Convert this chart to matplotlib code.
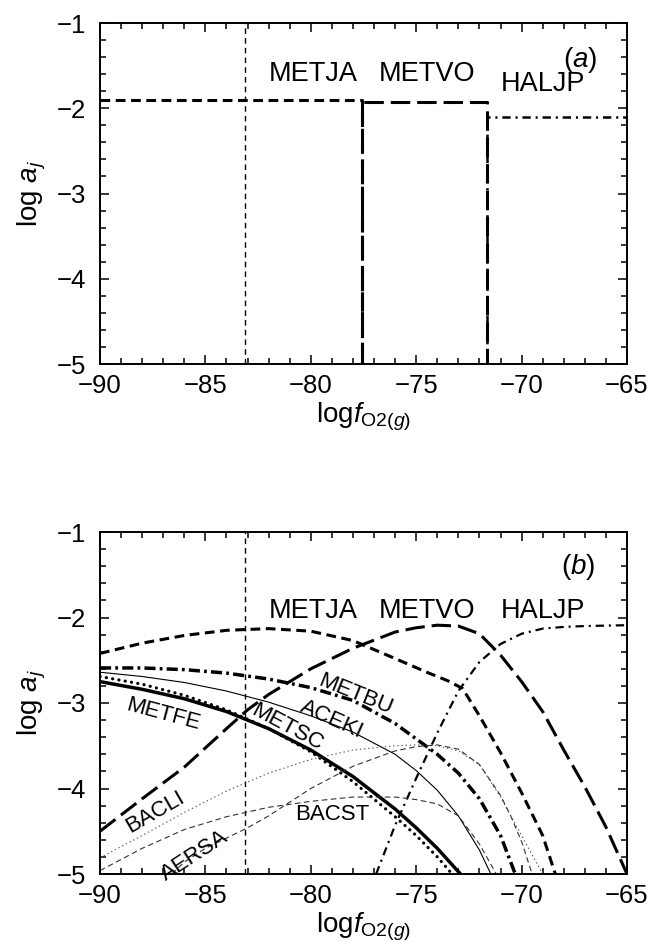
import matplotlib
matplotlib.use("Agg")
import matplotlib.pyplot as plt
from matplotlib.ticker import MultipleLocator

plt.rcParams['font.family'] = ['Liberation Sans', 'DejaVu Sans']
plt.rcParams['mathtext.fontset'] = 'custom'
plt.rcParams['mathtext.rm'] = 'Liberation Sans'
plt.rcParams['mathtext.it'] = 'Liberation Sans:italic'
plt.rcParams['mathtext.bf'] = 'Liberation Sans:bold'
plt.rcParams['lines.scale_dashes'] = False

# ---------------- data ----------------
x_ref = -83.1  # vertical reference line

# panel (a): step functions
a_metja_x = [-90, -77.55, -77.55]
a_metja_y = [-1.90, -1.90, -5.0]
a_metvo_x = [-77.55, -77.55, -71.65, -71.65]
a_metvo_y = [-5.0, -1.93, -1.93, -5.0]
a_haljp_x = [-71.65, -71.65, -65]
a_haljp_y = [-5.0, -2.10, -2.10]

# panel (b): curves
metja_x = [-90, -88, -86, -84, -82, -80, -78, -76, -74.5, -73.5, -72.8, -72, -71, -70, -69, -68.4]
metja_y = [-2.42, -2.30, -2.21, -2.15, -2.13, -2.16, -2.27, -2.48, -2.64, -2.74, -2.83, -3.15, -3.58, -4.05, -4.55, -5.0]

metvo_x = [-90, -88, -86, -84, -83, -82, -80, -78, -76, -75, -74, -73, -72, -71, -70, -69, -68, -67, -66, -65]
metvo_y = [-4.50, -4.12, -3.75, -3.30, -3.08, -2.90, -2.60, -2.36, -2.17, -2.12, -2.09, -2.10, -2.19, -2.44, -2.75, -3.10, -3.55, -3.98, -4.45, -5.0]

haljp_x = [-76.9, -76, -75, -74, -73, -72, -71, -70, -69, -68, -67, -65]
haljp_y = [-5.0, -4.43, -3.88, -3.35, -2.86, -2.52, -2.31, -2.19, -2.13, -2.11, -2.10, -2.09]

metbu_x = [-90, -88, -86, -84, -82, -80, -78, -76, -75, -74, -73, -72, -71, -70.3]
metbu_y = [-2.59, -2.59, -2.61, -2.65, -2.72, -2.82, -2.97, -3.24, -3.42, -3.60, -3.82, -4.12, -4.55, -5.0]

aceki_x = [-90, -88, -86, -84, -82, -80, -78, -76, -75, -74, -73, -72, -71.46]
aceki_y = [-2.64, -2.69, -2.76, -2.86, -2.99, -3.15, -3.34, -3.60, -3.79, -4.02, -4.32, -4.72, -5.0]

metsc_x = [-90, -88, -86, -84, -82, -80, -78, -76, -75, -74, -72.9]
metsc_y = [-2.75, -2.84, -2.95, -3.10, -3.30, -3.55, -3.86, -4.24, -4.46, -4.70, -5.0]

metfe_x = [-90, -88, -86, -84, -82, -80, -78, -76, -75, -74, -73.3]
metfe_y = [-2.69, -2.78, -2.91, -3.08, -3.30, -3.57, -3.92, -4.33, -4.55, -4.80, -5.0]

bacli_x = [-90, -88, -86, -84, -82, -80, -78, -76, -75, -74, -73, -72, -71, -70, -69]
bacli_y = [-4.81, -4.55, -4.28, -4.03, -3.82, -3.66, -3.55, -3.50, -3.49, -3.50, -3.56, -3.72, -4.10, -4.55, -5.0]

aersa_x = [-86.6, -86, -85, -84, -83, -82, -80, -78, -76, -75, -74, -73, -72, -71, -70.5, -70, -69.5]
aersa_y = [-5.0, -4.86, -4.70, -4.58, -4.46, -4.32, -4.00, -3.74, -3.56, -3.51, -3.49, -3.54, -3.72, -4.08, -4.33, -4.62, -5.0]

bacst_x = [-90, -88, -86, -84, -82, -80, -78, -76, -75, -74, -73, -72, -71.2]
bacst_y = [-4.96, -4.70, -4.48, -4.33, -4.22, -4.15, -4.10, -4.10, -4.13, -4.18, -4.32, -4.65, -5.0]

top_labels = ["METJA", "METVO", "HALJP"]
top_label_x = [-79.9, -74.5, -69.0]
a_label_y = [-1.60, -1.60, -1.71]
b_label_y = [-1.92, -1.92, -1.92]

# ---------------- figure ----------------
W, H = 652, 942
fig = plt.figure(figsize=(W / 100, H / 100), dpi=100)
ax_a = fig.add_axes([100 / W, 1 - 364 / H, 527 / W, 341 / H])
ax_b = fig.add_axes([100 / W, 1 - 874 / H, 527 / W, 342 / H])

lab_fs = 19.5
tick_fs = 18.5


def style(ax):
    ax.set_xlim(-90, -65)
    ax.set_ylim(-5, -1)
    ax.xaxis.set_major_locator(MultipleLocator(5))
    ax.xaxis.set_minor_locator(MultipleLocator(1))
    ax.yaxis.set_major_locator(MultipleLocator(1))
    ax.yaxis.set_minor_locator(MultipleLocator(0.2))
    ax.tick_params(which='both', direction='in', top=True, right=True,
                   labelsize=tick_fs, width=1.1)
    ax.tick_params(axis='x', which='both', pad=7)
    ax.tick_params(axis='y', which='both', pad=10)
    ax.tick_params(which='major', length=6.5)
    ax.tick_params(which='minor', length=4.5)
    for s in ax.spines.values():
        s.set_linewidth(1.4)
    ax.set_xticks([-90, -85, -80, -75, -70, -65])
    ax.set_xticklabels(["\u221290", "\u221285", "\u221280", "\u221275", "\u221270", "\u221265"])
    ax.set_yticks([-5, -4, -3, -2, -1])
    ax.set_yticklabels(["\u22125", "\u22124", "\u22123", "\u22122", "\u22121"])
    ax.set_xlabel(r'$\mathrm{log}f_{\mathrm{O2}(g)}$', fontsize=20, labelpad=2)
    ax.set_ylabel(r'$\mathrm{log}\ a_j$', fontsize=20, labelpad=6)
    ax.axvline(x_ref, color='black', lw=1.0, dashes=(4, 3))


style(ax_a)
style(ax_b)

k = 'black'
# panel a
ax_a.plot(a_metja_x, a_metja_y, color=k, lw=2.2, dashes=(7, 4))
ax_a.plot(a_metvo_x, a_metvo_y, color=k, lw=2.2, dashes=(14, 5))
ax_a.plot(a_haljp_x, a_haljp_y, color=k, lw=1.8, dashes=(6, 3.5, 1.5, 3.5))
for t, xx, yy in zip(top_labels, top_label_x, a_label_y):
    ax_a.text(xx, yy, t, fontsize=lab_fs, ha='center', va='center')
ax_a.text(-67.2, -1.43, r'$(\mathit{a})$', fontsize=20, ha='center', va='center')

# panel b
ax_b.plot(metja_x, metja_y, color=k, lw=2.2, dashes=(7, 4))
ax_b.plot(metvo_x, metvo_y, color=k, lw=2.2, dashes=(14, 5))
ax_b.plot(haljp_x, haljp_y, color=k, lw=1.6, dashes=(6, 3.5, 1.5, 3.5))
ax_b.plot(metbu_x, metbu_y, color=k, lw=2.5, dashes=(8, 3, 2, 3))
ax_b.plot(aceki_x, aceki_y, color=k, lw=0.8)
ax_b.plot(metsc_x, metsc_y, color=k, lw=2.5)
ax_b.plot(metfe_x, metfe_y, color=k, lw=2.3, dashes=(0.1, 4.5), dash_capstyle='round')
ax_b.plot(bacli_x, bacli_y, color='#555555', lw=0.8, dashes=(1, 2))
ax_b.plot(aersa_x, aersa_y, color='#333333', lw=0.8, dashes=(4, 2.5))
ax_b.plot(bacst_x, bacst_y, color='#333333', lw=0.8, dashes=(4, 2.5))

for t, xx, yy in zip(top_labels, top_label_x, b_label_y):
    ax_b.text(xx, yy, t, fontsize=lab_fs, ha='center', va='center')
ax_b.text(-67.3, -1.41, r'$(\mathit{b})$', fontsize=20, ha='center', va='center')

small_fs = 16
inner = [
    ("METBU", -77.9, -2.90, -22),
    ("ACEKI", -79.0, -3.19, -24),
    ("METSC", -81.1, -3.29, -28),
    ("METFE", -87.0, -3.13, -15),
    ("BACLI", -87.4, -4.28, 30),
    ("AERSA", -85.5, -4.79, 33),
    ("BACST", -79.0, -4.30, 0),
]
for t, xx, yy, rot in inner:
    ax_b.text(xx, yy, t, fontsize=small_fs, ha='center', va='center',
              rotation=rot, rotation_mode='anchor')

fig.savefig("out.png", dpi=100)
